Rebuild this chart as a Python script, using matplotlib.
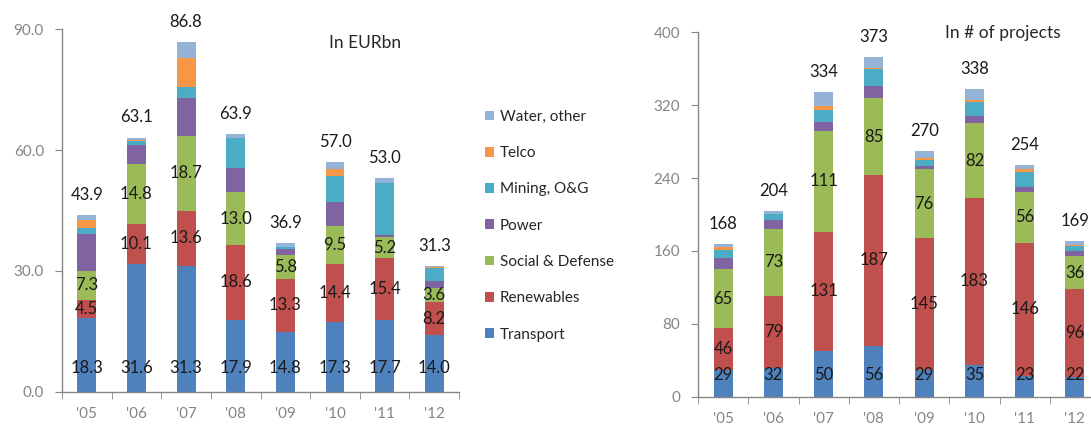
import matplotlib
matplotlib.use("Agg")
import matplotlib.pyplot as plt
from matplotlib.patches import Patch
import numpy as np

plt.rcParams['font.family'] = ['Lato', 'DejaVu Sans']

years = ["'05", "'06", "'07", "'08", "'09", "'10", "'11", "'12"]
series = ["Transport", "Renewables", "Social & Defense", "Power", "Mining, O&G", "Telco", "Water, other"]
colors = ["#4F81BD", "#C0504D", "#9BBB59", "#8064A2", "#4BACC6", "#F79646", "#95B3D7"]

# In EURbn
eur_transport = [18.3, 31.6, 31.3, 17.9, 14.8, 17.3, 17.7, 14.0]
eur_renew = [4.5, 10.1, 13.6, 18.6, 13.3, 14.4, 15.4, 8.2]
eur_social = [7.3, 14.8, 18.7, 13.0, 5.8, 9.5, 5.2, 3.6]
eur_power = [9.0, 4.8, 9.3, 6.0, 1.5, 5.8, 0.7, 1.6]
eur_mining = [1.5, 1.0, 2.7, 7.4, 0.5, 6.6, 12.9, 3.2]
eur_telco = [2.0, 0.2, 7.2, 0.1, 0.1, 1.7, 0.0, 0.3]
eur_water = [1.3, 0.6, 4.0, 0.9, 0.9, 1.7, 1.1, 0.4]
eur_total = [43.9, 63.1, 86.8, 63.9, 36.9, 57.0, 53.0, 31.3]

# In # of projects
prj_transport = [29, 32, 50, 56, 29, 35, 23, 22]
prj_renew = [46, 79, 131, 187, 145, 183, 146, 96]
prj_social = [65, 73, 111, 85, 76, 82, 56, 36]
prj_power = [12, 10, 10, 13, 3, 8, 5, 6]
prj_mining = [9, 6, 13, 19, 7, 15, 17, 5]
prj_telco = [3, 1, 4, 1, 2, 3, 3, 2]
prj_water = [4, 3, 15, 12, 8, 12, 4, 4]
prj_total = [168, 204, 334, 373, 270, 338, 254, 169]

eur_yticks = [0, 30, 60, 90]
prj_yticks = [0, 80, 160, 240, 320, 400]

fig = plt.figure(figsize=(10.91, 4.26), dpi=100)
fig.patch.set_facecolor("white")

axL = fig.add_axes([0.0568, 0.0805, 0.364, 0.8507])
axR = fig.add_axes([0.6398, 0.0688, 0.3685, 0.8554])

GRAY = "#868686"
TICKC = "#858585"
TXT = "#1A1A1A"


def draw(ax, data, total, yticks, fmt, lab_fmt, title, title_xy, transport_frac):
    x = np.arange(len(years))
    bottom = np.zeros(len(years))
    for vals, c in zip(data, colors):
        v = np.array(vals, dtype=float)
        ax.bar(x, v, 0.38, bottom=bottom, color=c, linewidth=0)
        bottom += v
    # labels inside: transport at fixed height, renewables & social centered
    for i in x:
        ax.text(i, transport_frac, lab_fmt(data[0][i]), transform=ax.get_xaxis_transform(),
                ha="center", va="center", fontsize=12, color=TXT)
        b = data[0][i]
        ax.text(i, b + data[1][i] / 2, lab_fmt(data[1][i]), ha="center", va="center",
                fontsize=12, color=TXT)
        b2 = b + data[1][i]
        ax.text(i, b2 + data[2][i] / 2, lab_fmt(data[2][i]), ha="center", va="center",
                fontsize=12, color=TXT)
        ax.annotate(lab_fmt(total[i]), (i, bottom[i]), xytext=(0, 14.5),
                    textcoords="offset points", ha="center", va="center",
                    fontsize=12, color=TXT)
    ax.set_xlim(-0.5, 7.5)
    ax.set_ylim(yticks[0], yticks[-1])
    ax.set_yticks(yticks)
    ax.set_yticklabels([fmt(t) for t in yticks])
    ax.set_xticks(x)
    ax.set_xticklabels(years)
    ax.set_xticks(np.arange(-0.5, 8.0, 1.0), minor=True)
    ax.tick_params(axis="x", which="major", length=0, pad=11, labelsize=11, labelcolor=TICKC)
    ax.tick_params(axis="x", which="minor", length=5, color=GRAY, direction="out")
    ax.tick_params(axis="y", length=5, color=GRAY, direction="out", labelsize=11,
                   labelcolor=TICKC, pad=8)
    for s in ["top", "right"]:
        ax.spines[s].set_visible(False)
    for s in ["left", "bottom"]:
        ax.spines[s].set_color(GRAY)
        ax.spines[s].set_linewidth(1.0)
    ax.text(title_xy[0], title_xy[1], title, transform=ax.transAxes, ha="center",
            va="center", fontsize=12.5, color="#262626")


draw(axL,
     [eur_transport, eur_renew, eur_social, eur_power, eur_mining, eur_telco, eur_water],
     eur_total, eur_yticks, lambda t: f"{t:.1f}", lambda v: f"{v:.1f}",
     "In EURbn", ((365 - 62) / 397, (391.7 - 43) / 362.4), 0.065)

draw(axR,
     [prj_transport, prj_renew, prj_social, prj_power, prj_mining, prj_telco, prj_water],
     prj_total, prj_yticks, lambda t: f"{t:d}", lambda v: f"{v:d}",
     "In # of projects", ((1003 - 698) / 402, (396.7 - 33) / 364.4), 0.06)

handles = [Patch(facecolor=c, edgecolor="none", label=s) for s, c in zip(series, colors)][::-1]
fig.legend(handles=handles, loc="upper left", bbox_to_anchor=(471 / 1091, 1 - 96 / 426),
           frameon=False, fontsize=11, handlelength=0.6, handleheight=0.6,
           handletextpad=0.4, labelspacing=1.46, labelcolor="#262626")

fig.savefig("out.png", dpi=100, facecolor="white")
